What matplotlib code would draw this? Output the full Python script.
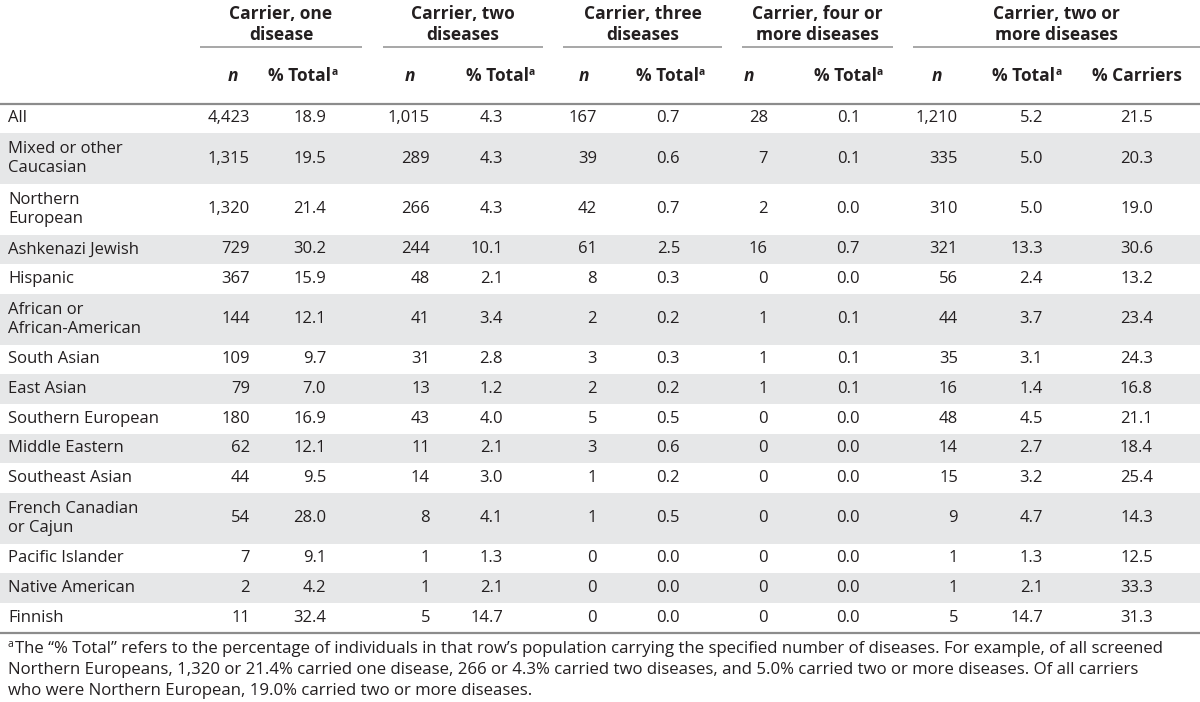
import matplotlib
matplotlib.use("Agg")
import matplotlib.pyplot as plt
from matplotlib.patches import Rectangle

plt.rcParams['font.family'] = ['Open Sans', 'DejaVu Sans']

# Dados da tabela
grupos = ["Carrier, one\ndisease", "Carrier, two\ndiseases", "Carrier, three\ndiseases",
          "Carrier, four or\nmore diseases", "Carrier, two or\nmore diseases"]
subcolunas = ["n", "% Total", "n", "% Total", "n", "% Total", "n", "% Total",
              "n", "% Total", "% Carriers"]

populacoes = ["All", "Mixed or other\nCaucasian", "Northern\nEuropean", "Ashkenazi Jewish",
              "Hispanic", "African or\nAfrican-American", "South Asian", "East Asian",
              "Southern European", "Middle Eastern", "Southeast Asian",
              "French Canadian\nor Cajun", "Pacific Islander", "Native American", "Finnish"]

n_um = ["4,423", "1,315", "1,320", "729", "367", "144", "109", "79", "180", "62", "44", "54", "7", "2", "11"]
pct_um = ["18.9", "19.5", "21.4", "30.2", "15.9", "12.1", "9.7", "7.0", "16.9", "12.1", "9.5", "28.0", "9.1", "4.2", "32.4"]
n_dois = ["1,015", "289", "266", "244", "48", "41", "31", "13", "43", "11", "14", "8", "1", "1", "5"]
pct_dois = ["4.3", "4.3", "4.3", "10.1", "2.1", "3.4", "2.8", "1.2", "4.0", "2.1", "3.0", "4.1", "1.3", "2.1", "14.7"]
n_tres = ["167", "39", "42", "61", "8", "2", "3", "2", "5", "3", "1", "1", "0", "0", "0"]
pct_tres = ["0.7", "0.6", "0.7", "2.5", "0.3", "0.2", "0.3", "0.2", "0.5", "0.6", "0.2", "0.5", "0.0", "0.0", "0.0"]
n_quatro = ["28", "7", "2", "16", "0", "1", "1", "1", "0", "0", "0", "0", "0", "0", "0"]
pct_quatro = ["0.1", "0.1", "0.0", "0.7", "0.0", "0.1", "0.1", "0.1", "0.0", "0.0", "0.0", "0.0", "0.0", "0.0", "0.0"]
n_mais = ["1,210", "335", "310", "321", "56", "44", "35", "16", "48", "14", "15", "9", "1", "1", "5"]
pct_mais = ["5.2", "5.0", "5.0", "13.3", "2.4", "3.7", "3.1", "1.4", "4.5", "2.7", "3.2", "4.7", "1.3", "2.1", "14.7"]
pct_portadores = ["21.5", "20.3", "19.0", "30.6", "13.2", "23.4", "24.3", "16.8", "21.1", "18.4", "25.4", "14.3", "12.5", "33.3", "31.3"]

nota = ["The \u201c% Total\u201d refers to the percentage of individuals in that row\u2019s population carrying the specified number of diseases. For example, of all screened",
        "Northern Europeans, 1,320 or 21.4% carried one disease, 266 or 4.3% carried two diseases, and 5.0% carried two or more diseases. Of all carriers",
        "who were Northern European, 19.0% carried two or more diseases."]

colunas = [n_um, pct_um, n_dois, pct_dois, n_tres, pct_tres, n_quatro, pct_quatro,
           n_mais, pct_mais, pct_portadores]

# Layout (pixels)
TXT = "#231f20"
CINZA = "#e6e7e8"
LINHA = "#8c8c8c"
FS = 12.0
FS_CAB = 12.5
FS_NOTA = 12.05
dir_col = [250, 326, 430, 503, 597, 680, 768, 860, 958, 1043, 1153]
centro_sub = [233, 303, 410, 500, 584, 670, 749, 848, 937, 1027, 1137]
faixa_grupo = [(200, 362), (383, 543), (563, 722), (742, 893), (913, 1200)]

fig = plt.figure(figsize=(12, 7.02), dpi=100)
ax = fig.add_axes([0, 0, 1, 1])
ax.set_xlim(0, 1200)
ax.set_ylim(702, 0)
ax.axis("off")

# Cabeçalho
for (x0, x1), g in zip(faixa_grupo, grupos):
    ax.text((x0 + x1) / 2, 24.5, g, ha="center", va="center", fontsize=FS_CAB,
            fontweight="bold", color=TXT, linespacing=1.25)
    ax.plot([x0, x1], [47, 47], color="#a0a0a0", lw=1.3, solid_capstyle="butt")

for cx, s in zip(centro_sub, subcolunas):
    if s == "n":
        ax.text(cx, 76, "n", ha="center", va="center", fontsize=FS_CAB,
                fontweight="bold", style="italic", color=TXT)
    else:
        off = 3 if s == "% Total" else 0
        t = ax.text(cx - off, 76, s, ha="center", va="center", fontsize=FS_CAB,
                    fontweight="bold", color=TXT)
        if s == "% Total":
            ax.annotate("a", xy=(1, 0.72), xycoords=t, ha="left", va="center",
                        fontsize=7.5, fontweight="bold", color=TXT)

ax.plot([0, 1200], [103.5, 103.5], color=LINHA, lw=1.6)

# Linhas da tabela
h1 = 29.67
h2 = 50.67
y = 103.5
for i, pop in enumerate(populacoes):
    h = h2 if "\n" in pop else h1
    if i % 2 == 1:
        ax.add_patch(Rectangle((0, y), 1200, h, facecolor=CINZA, edgecolor="none"))
    ym = y + h / 2
    ax.text(8, ym, pop, ha="left", va="center", fontsize=FS, color=TXT, linespacing=1.25)
    for xr, col in zip(dir_col, colunas):
        ax.text(xr, ym, col[i], ha="right", va="center", fontsize=FS, color=TXT)
    y += h

ax.plot([0, 1200], [y, y], color=LINHA, lw=1.6)

# Nota de rodapé
for k, linha in enumerate(nota):
    x0 = 15 if k == 0 else 8
    ax.text(x0, y + 16 + k * 21, linha, ha="left", va="center", fontsize=FS_NOTA, color=TXT)
ax.text(8, y + 12, "a", ha="left", va="center", fontsize=7.5, color=TXT)

fig.savefig("out.png", dpi=100)
